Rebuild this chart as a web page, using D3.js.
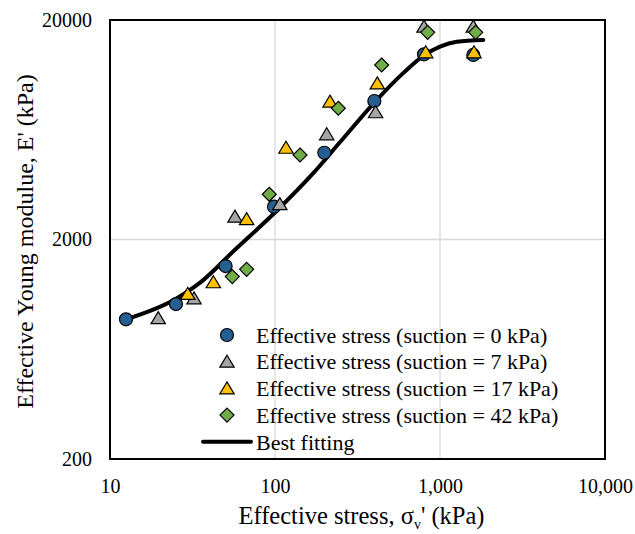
<!DOCTYPE html>
<html>
<head>
<meta charset="utf-8">
<script src="https://cdn.jsdelivr.net/npm/d3@7"></script>
<style>
  html, body { margin: 0; padding: 0; background: #fff; }
  svg { display: block; }
  text { font-family: "Liberation Serif", "Times New Roman", serif; fill: #000; }
</style>
</head>
<body>
<svg id="chart" width="635" height="534"></svg>
<script>
// Effective stress (kPa) and Young modulus E' (kPa) for each suction level
const suction0X  = [12.5, 25.1, 50.2, 98.6, 199, 400, 800, 1592];
const suction0Y  = [866, 1016, 1514, 2821, 4970, 8550, 13950, 13860];
const suction7X  = [19.6, 32.3, 57.2, 107, 205.8, 407, 800, 1592];
const suction7Y  = [877, 1079, 2541, 2900, 6031, 7600, 18650, 18650];
const suction17X = [29.6, 42.3, 67.3, 116.6, 215.4, 417, 819, 1606];
const suction17Y = [1130, 1277, 2477, 5237, 8490, 10290, 14250, 14250];
const suction42X = [55.1, 67.3, 92.3, 141.8, 242, 443, 842, 1645];
const suction42Y = [1355, 1463, 3214, 4852, 7925, 12474, 17575, 17575];

// Best-fitting curve
const fitX = [12.5, 25, 35, 57, 101, 170, 248, 400, 600, 800, 1000, 1262, 1830];
const fitY = [866, 1072, 1268, 1792, 2675, 3999, 5559, 8414, 11482, 13804, 15136, 15922, 16218];

const xTicks = [10, 100, 1000, 10000];
const xTickLabels = ["10", "100", "1,000", "10,000"];
const yTicks = [200, 2000, 20000];
const yTickLabels = ["200", "2000", "20000"];

const seriesNames = [
  "Effective stress (suction = 0 kPa)",
  "Effective stress (suction = 7 kPa)",
  "Effective stress (suction = 17 kPa)",
  "Effective stress (suction = 42 kPa)"
];
const fitName = "Best fitting";

const series = [
  { x: suction0X,  y: suction0Y,  shape: "circle",   color: "#255E91" },
  { x: suction7X,  y: suction7Y,  shape: "triangle", color: "#A5A5A5" },
  { x: suction17X, y: suction17Y, shape: "triangle", color: "#FFC000" },
  { x: suction42X, y: suction42Y, shape: "diamond",  color: "#70AD47" }
];

const plot = { left: 110, right: 605, top: 20, bottom: 459 };
const svg = d3.select("#chart");

const x = d3.scaleLog().domain([10, 10000]).range([plot.left, plot.right]);
const y = d3.scaleLog().domain([200, 20000]).range([plot.bottom, plot.top]);

// gridlines
const grid = svg.append("g");
grid.selectAll("line.gx").data(xTicks.slice(1, -1)).join("line")
  .attr("x1", d => x(d)).attr("x2", d => x(d))
  .attr("y1", plot.top).attr("y2", plot.bottom)
  .attr("stroke", "#D9D9D9").attr("stroke-width", 1.3);
grid.selectAll("line.gy").data(yTicks.slice(1, -1)).join("line")
  .attr("y1", d => y(d)).attr("y2", d => y(d))
  .attr("x1", plot.left).attr("x2", plot.right)
  .attr("stroke", "#D9D9D9").attr("stroke-width", 1.3);

// axes (labels only, no tick marks)
const xAxis = d3.axisBottom(x).tickValues(xTicks)
  .tickFormat((d, i) => xTickLabels[i]).tickSize(0).tickPadding(0);
const gx = svg.append("g").attr("transform", `translate(0,${plot.bottom})`).call(xAxis);
gx.select(".domain").remove();
gx.selectAll("text").attr("dy", null).attr("y", 0)
  .attr("transform", "translate(0,34)")
  .style("font-family", '"Liberation Serif", serif').style("font-size", "20px");

const yAxis = d3.axisLeft(y).tickValues(yTicks)
  .tickFormat((d, i) => yTickLabels[i]).tickSize(0).tickPadding(18);
const gy = svg.append("g").attr("transform", `translate(${plot.left},0)`).call(yAxis);
gy.select(".domain").remove();
gy.selectAll("text")
  .style("font-family", '"Liberation Serif", serif').style("font-size", "20px");

// axis titles
const xt = svg.append("text")
  .attr("x", (plot.left + plot.right) / 2 + 4).attr("y", 524)
  .attr("text-anchor", "middle").style("font-size", "24.5px");
xt.append("tspan").text("Effective stress, σ");
xt.append("tspan").attr("dy", 5).style("font-size", "14px").text("v");
xt.append("tspan").attr("dy", -5).text("' (kPa)");

svg.append("text")
  .attr("transform", `translate(33,${(plot.top + plot.bottom) / 2 + 2}) rotate(-90)`)
  .attr("text-anchor", "middle").style("font-size", "24px")
  .text("Effective Young modulue, E' (kPa)");

// marker paths
function markerPath(shape) {
  if (shape === "circle") return d3.symbol(d3.symbolCircle, Math.PI * 6.5 * 6.5)();
  if (shape === "triangle") return "M0,-6.5L7.2,5.5L-7.2,5.5Z";
  return "M0,-7L7,0L0,7L-7,0Z";
}

// best-fitting line
const line = d3.line().x(d => x(d[0])).y(d => y(d[1])).curve(d3.curveMonotoneX);
svg.append("path")
  .datum(fitX.map((v, i) => [v, fitY[i]]))
  .attr("d", line).attr("fill", "none")
  .attr("stroke", "#000").attr("stroke-width", 4).attr("stroke-linecap", "round");

// data markers
series.forEach(s => {
  svg.append("g").selectAll("path")
    .data(s.x.map((v, i) => [v, s.y[i]]))
    .join("path")
    .attr("d", markerPath(s.shape))
    .attr("transform", d => `translate(${x(d[0])},${y(d[1])})`)
    .attr("fill", s.color).attr("stroke", "#000").attr("stroke-width", 1.2);
});

// plot frame
svg.append("rect")
  .attr("x", plot.left).attr("y", plot.top)
  .attr("width", plot.right - plot.left).attr("height", plot.bottom - plot.top)
  .attr("fill", "none").attr("stroke", "#000").attr("stroke-width", 2);

// legend
const legend = svg.append("g");
const rowY = i => 335 + i * 26.7;
series.forEach((s, i) => {
  legend.append("path").attr("d", markerPath(s.shape))
    .attr("transform", `translate(227,${rowY(i)})`)
    .attr("fill", s.color).attr("stroke", "#000").attr("stroke-width", 1.2);
  legend.append("text").attr("x", 256).attr("y", rowY(i)).attr("dy", "0.35em")
    .style("font-size", "22px").text(seriesNames[i]);
});
legend.append("line")
  .attr("x1", 203).attr("x2", 251).attr("y1", rowY(4)).attr("y2", rowY(4))
  .attr("stroke", "#000").attr("stroke-width", 4).attr("stroke-linecap", "round");
legend.append("text").attr("x", 256).attr("y", rowY(4)).attr("dy", "0.35em")
  .style("font-size", "22px").text(fitName);
</script>
</body>
</html>
